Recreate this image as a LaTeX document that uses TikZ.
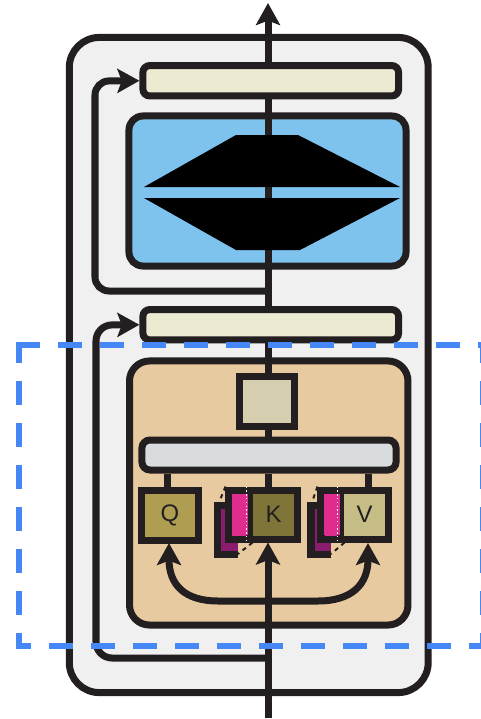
\documentclass[tikz,border=0pt]{standalone}
\usepackage{xcolor}
\usepackage{fontspec}
\setmainfont{Liberation Sans}
\usetikzlibrary{arrows.meta}
\definecolor{TFLine}{HTML}{231F20}
\definecolor{TFPanel}{HTML}{F0F0F1}
\definecolor{TFNorm}{HTML}{EDEAD2}
\definecolor{TFBlue}{HTML}{7EC3EE}
\definecolor{TFTan}{HTML}{E8CAA0}
\definecolor{TFSquare}{HTML}{D5CFB0}
\definecolor{TFBar}{HTML}{D9DCDE}
\definecolor{TFQ}{HTML}{AF9E51}
\definecolor{TFK}{HTML}{7F7538}
\definecolor{TFV}{HTML}{C5BD85}
\definecolor{TFPink}{HTML}{DE2C8F}
\definecolor{TFPurple}{HTML}{8A1C6E}
\definecolor{TFDash}{HTML}{4587F7}
\tikzset{
  block/.style={draw=TFLine,line width=0.175cm,inner sep=0pt},
  flow/.style={draw=TFLine,line width=0.175cm},
  flowtip/.style={flow,-{Stealth[length=0.55cm,width=0.6cm,inset=0.11cm]}},
  letter/.style={block,text=TFLine,font=\fontsize{17pt}{17pt}\selectfont},
  slab/.style={block,fill=TFPink,minimum width=0.5cm,minimum height=1.225cm},
  backslab/.style={inner sep=0pt,outer sep=0pt,fill=TFPurple,minimum width=0.5cm,minimum height=1.225cm},
  slabedge/.style={TFLine,line width=0.05cm,dashed},
  dotline/.style={white,line width=0.03cm,dash pattern=on 0.035cm off 0.06cm},
  sidedash/.style={draw=TFDash,line width=0.15cm,dash pattern=on 0.6cm off 0.45cm,dash phase=#1},
}
\begin{document}
\begin{tikzpicture}[x=0.025cm,y=-0.025cm]
\path[use as bounding box] (0,0) rectangle (481,719);
\coordinate (top) at (268,3);
\coordinate (input) at (268,718);
\coordinate (resA) at (268,291);
\coordinate (resB) at (268,658);
\coordinate (bus) at (268,601);
% panels
\node[block,fill=TFPanel,rounded corners=0.75cm,minimum width=8.97cm,minimum height=16.375cm] (panel) at (248.75,365) {};
\node[block,fill=TFBlue,rounded corners=0.35cm,minimum width=6.925cm,minimum height=3.75cm] (ffn) at (267.5,191) {};
\node[block,fill=TFTan,rounded corners=0.5cm,minimum width=6.96cm,minimum height=6.6cm] (attn) at (268.75,493) {};
\node[block,fill=TFNorm,rounded corners=0.17cm,minimum width=6.39cm,minimum height=0.76cm] (normT) at (270.75,80.75) {};
\node[block,fill=TFNorm,rounded corners=0.17cm,minimum width=6.39cm,minimum height=0.76cm] (normB) at (270.75,324.75) {};
% inner blocks
\node[block,fill=TFSquare,minimum width=1.35cm,minimum height=1.25cm] (square) at (267,401) {};
\node[block,fill=TFBar,rounded corners=0.2cm,minimum width=6.35cm,minimum height=0.75cm] (bar) at (269,455) {};
\node[backslab] (Kback) at (228,529.5) {};
\node[backslab] (Vback) at (321,529.5) {};
\draw[flow] (Kback.north east) -- (Kback.north west) -- (Kback.south west) -- (Kback.south east);
\draw[flow] (Vback.north east) -- (Vback.north west) -- (Vback.south west) -- (Vback.south east);
\node[slab] (Kfront) at (239,514.5) {};
\node[slab] (Vfront) at (331,514.5) {};
\node[letter,fill=TFQ,minimum width=1.4cm,minimum height=1.25cm] (Q) at (170,515) {Q};
\node[letter,fill=TFK,minimum width=1.175cm,minimum height=1.225cm] (K) at (273.5,514.5) {K};
\node[letter,fill=TFV,minimum width=1.175cm,minimum height=1.225cm] (V) at (364.5,514.5) {V};
\fill[TFPink] (231.5,494) rectangle (248,535);
\fill[TFPink] (324,494) rectangle (339.5,535);
% slab edges
\draw[slabedge] (Kfront.north west) -- (Kback.north west);
\draw[slabedge] (Kfront.south east) -- (Kback.south east);
\draw[slabedge] (Vfront.north west) -- (Vback.north west);
\draw[slabedge] (Vfront.south east) -- (Vback.south east);
\draw[dotline] (K.north west) -- (K.south west);
\draw[dotline] (V.north west) -- (V.south west);
% main line
\draw[flow] (top |- ffn.south) -- (top |- ffn.north);
\fill[black] (144,187) -- (236,135) -- (298,135) -- (400,187) -- cycle;
\fill[black] (144,198) -- (236,250) -- (300,250) -- (400,198) -- cycle;
\draw[flow] (top |- normB.north) -- (top |- ffn.south);
\draw[flowtip] (top |- normT.north) -- (top);
\draw[flow] (top |- ffn.north) -- (top |- normT.south);
\draw[flow] (top |- attn.north) -- (top |- normB.south);
\draw[flow] (top |- square.north) -- (top |- attn.north);
\draw[flow] (top |- bar.north) -- (top |- square.south);
\draw[flow] (Q.north -| 167,0) -- (bar.south -| 167,0);
\draw[flow] (top |- K.north) -- (top |- bar.south);
\draw[flow] (V.north -| 368,0) -- (bar.south -| 368,0);
\draw[flowtip] (input) -- (top |- K.south);
% branches
\draw[flowtip,rounded corners=0.35cm] (resA) -- (95,291) -- (95,81) -- (normT.west);
\draw[flowtip,rounded corners=0.4cm] (resB) -- (96,658) -- (96,325) -- (normB.west);
\draw[flowtip] (bus) -- (218,601) .. controls (185,601) and (169,585) .. (169,543);
\draw[flowtip] (bus) -- (318,601) .. controls (351,601) and (368,585) .. (368,543);
% dashed frame
\draw[sidedash=0cm] (16,345) -- (483,345);
\draw[sidedash=0.075cm] (19,342) -- (19,646);
\draw[sidedash=0.225cm] (16,646) -- (483,646);
\draw[sidedash=0.075cm] (483,342) -- (483,646);
\end{tikzpicture}
\end{document}
